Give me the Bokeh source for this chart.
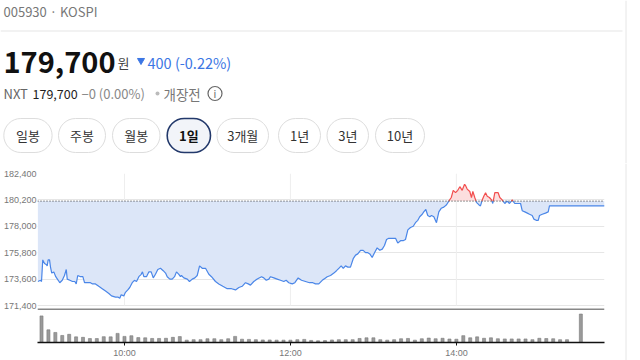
import numpy as np
from bokeh.plotting import figure
from bokeh.layouts import column, row
from bokeh.models import Range1d, FixedTicker, Span, NumeralTickFormatter
from bokeh.core.properties import value
from bokeh.embed import file_html
from bokeh.resources import INLINE

# ---------------- data ----------------
CODE_LINE = "005930 · KOSPI"
LAST_PRICE = "179,700"
UNIT = "원"
CHANGE = "400 (-0.22%)"
NXT_LABEL = "NXT"
NXT_PRICE = "179,700"
NXT_CHANGE = "−0 (0.00%)"
NXT_STATE = "개장전"
PERIODS = ["일봉", "주봉", "월봉", "1일", "3개월", "1년", "3년", "10년"]
SELECTED = "1일"

PREV_CLOSE = 180100

# minutes after 09:00
PRICE_MINUTES = [
    -2.7, -0.7, 0.0, 0.9, 2.2, 3.6, 4.1, 4.8, 5.8, 6.5,
    7.4, 8.9, 10.3, 12.1, 13.2, 15.0, 16.6, 17.9, 18.6, 20.5,
    22.4, 24.1, 25.1, 26.2, 28.2, 29.9, 31.1, 33.0, 35.4, 36.9,
    39.0, 41.4, 43.9, 46.3, 48.7, 50.6, 53.5, 55.2, 56.6, 57.6,
    59.5, 60.7, 62.4, 63.8, 65.6, 67.2, 68.7, 70.4, 72.1, 73.0,
    74.0, 75.9, 77.6, 79.3, 80.8, 82.4, 84.1, 86.0, 88.0, 89.7,
    90.9, 92.8, 94.5, 96.2, 97.6, 99.3, 100.5, 101.2, 102.9, 105.4,
    107.0, 109.0, 110.9, 112.6, 114.3, 116.2, 118.6, 121.0, 122.9, 125.8,
    128.2, 131.1, 134.3, 137.4, 140.3, 142.7, 145.1, 147.5, 149.5, 151.1,
    153.5, 156.0, 159.1, 160.7, 162.5, 164.4, 165.6, 168.0, 170.4, 172.8,
    175.2, 176.9, 178.8, 181.3, 183.2, 185.6, 188.0, 190.9, 193.8, 196.2,
    198.1, 200.5, 203.0, 205.4, 206.6, 209.0, 211.4, 213.3, 215.0, 216.7,
    218.2, 219.8, 221.5, 223.4, 225.4, 227.1, 228.7, 230.7, 232.6, 234.3,
    236.0, 237.4, 239.1, 240.8, 242.7, 244.6, 246.4, 248.0, 249.5, 251.1,
    253.6, 256.0, 257.6, 259.6, 261.5, 263.2, 264.9, 266.8, 268.8, 270.4,
    272.1, 273.5, 275.3, 276.4, 277.9, 279.3, 280.8, 282.0, 283.7, 285.6,
    287.3, 289.0, 290.9, 292.9, 294.5, 296.3, 297.7, 299.4, 301.0, 302.5,
    304.2, 305.9, 306.6, 307.8, 309.7, 310.9, 311.9, 313.3, 314.5, 316.2,
    317.4, 318.7, 319.8, 321.1, 322.3, 323.9, 325.4, 326.3, 327.8, 330.2,
    331.4, 333.1, 335.0, 336.7, 338.4, 340.4, 342.2, 344.7, 346.4, 347.6,
    349.5, 351.3, 352.9, 354.8, 356.0, 357.7, 359.2, 360.1, 362.1, 364.4,
    366.4, 367.3, 368.1, 380.0, 390.0, 407.1,
]
PRICES = [
    173400, 173500, 173400, 175200, 174900, 174800, 174700, 175200, 175200, 174600,
    174100, 174200, 173800, 173500, 173300, 173500, 173900, 174400, 173600, 173500,
    173400, 173400, 173200, 173900, 173800, 173800, 173300, 173300, 173300, 173200,
    173200, 173000, 172800, 172600, 172400, 172200, 172100, 172100, 172000, 172300,
    172200, 172500, 172700, 172900, 173300, 173500, 173400, 173800, 174000, 174200,
    173800, 173800, 174200, 174200, 173700, 174000, 174400, 174500, 174300, 174100,
    173800, 173600, 173600, 173800, 174200, 174000, 173800, 173900, 173700, 173600,
    173400, 173600, 173700, 173900, 174700, 174500, 174500, 174000, 173800, 173400,
    173200, 173000, 172800, 172800, 172700, 172900, 173000, 173300, 173200, 173100,
    173400, 173600, 173800, 173700, 173500, 173600, 173800, 173700, 173600, 173500,
    173400, 173500, 173300, 173200, 173300, 173700, 173500, 173400, 173300, 173300,
    173200, 173200, 173500, 173700, 173800, 173900, 174100, 174300, 174500, 174700,
    174500, 174700, 174600, 174600, 175300, 175600, 175700, 176000, 176000, 175800,
    175800, 175700, 175400, 175800, 176200, 176000, 176100, 176400, 176900, 177000,
    177000, 177000, 176600, 176800, 176800, 176900, 177700, 177900, 178000, 178300,
    178500, 178800, 179000, 179200, 179400, 178900, 178800, 178900, 178800, 178300,
    179200, 179500, 179600, 179800, 180100, 180400, 181000, 180800, 181000, 181300,
    181000, 181500, 181400, 181100, 180900, 180400, 180900, 180400, 180000, 179800,
    179700, 180200, 180500, 180800, 180500, 180400, 180200, 179900, 180800, 180800,
    180400, 180200, 179900, 180100, 179900, 180200, 179900, 179900, 179900, 179300,
    179200, 179100, 179000, 178900, 178600, 178500, 178500, 178900, 179000, 179100,
    179200, 179700, 179700, 179700, 179700, 179700,
]

# 5-minute volume bars (minutes after 09:00) plus the 15:30 closing auction
VOL_MINUTES = list(range(0, 385, 5)) + [390]
VOLUMES = [
    283000, 135000, 107000, 75000, 87000, 60000, 55000, 42000, 42000, 62000,
    60000, 97000, 65000, 72000, 52000, 50000, 43000, 43000, 45000, 55000,
    63000, 25000, 30000, 30000, 40000, 40000, 30000, 40000, 65000, 35000,
    33000, 30000, 27000, 27000, 25000, 25000, 25000, 30000, 33000, 22000,
    18000, 20000, 27000, 30000, 30000, 30000, 43000, 50000, 50000, 30000,
    25000, 30000, 40000, 43000, 25000, 40000, 47000, 40000, 45000, 37000,
    35000, 73000, 50000, 60000, 45000, 50000, 40000, 38000, 38000, 38000,
    38000, 30000, 45000, 42000, 40000, 30000, 30000,
    303000,
]

Y_TICKS = [171400, 173600, 175800, 178000, 180200, 182400]
X_TICKS = [60, 180, 300]
X_TICK_LABELS = ["10:00", "12:00", "14:00"]

# ---------------- styling / layout ----------------
FONT = "Noto Sans CJK KR"
AXIS_FONT = "Liberation Sans"
BLUE_TEXT = "#3b76e4"
BLUE_LINE = "#4a86e8"
BLUE_FILL = "#dce6f8"
RED_LINE = "#f24e4e"
RED_FILL = "#fcdede"

W, H = 640, 360
HEAD_H, PRICE_H, VOL_H = 163, 148, 49
CHART_W, STRIP_W = 620, 20
FRAME_L, FRAME_R = 37, 604
T_RANGE = (-2.9, 407.1)
GRID_PX = 132                      # pixel height between the outer y ticks
WON_PER_PX = (Y_TICKS[-1] - Y_TICKS[0]) / GRID_PX
P_RANGE = (Y_TICKS[0] - 4 * WON_PER_PX, Y_TICKS[-1])   # 4px below the last grid line
V_RANGE = (0, 330000)

PILL_LEFT = [3.3, 58.0, 112.0, 166.7, 216.5, 278.0, 326.5, 375.0]
PILL_RIGHT = [51.6, 105.0, 159.5, 210.0, 268.0, 320.0, 368.0, 424.0]
PILL_TOP, PILL_BOTTOM = 118, 152


def txt(fig, x, y, s, size, color, style="normal", align="left", font=FONT):
    fig.text(x=[x], y=[y], text=[s], text_font=value(font),
             text_font_size=value(f"{size}px"), text_color=color,
             text_font_style=style, text_align=align, text_baseline="middle")


# ---------------- header ----------------
head = figure(width=W, height=HEAD_H, x_range=Range1d(0, W), y_range=Range1d(HEAD_H, 0),
              x_axis_type=None, y_axis_type=None, toolbar_location=None,
              output_backend="svg", min_border=0, outline_line_color=None)

txt(head, 3, 10.5, CODE_LINE, 13, "#777777")
head.segment(x0=[0], y0=[30.5], x1=[622], y1=[30.5], line_color="#eeeeee", line_width=1.5)
head.segment(x0=[625.5], y0=[0], x1=[625.5], y1=[HEAD_H], line_color="#e6e6e6", line_width=1)

txt(head, 3, 61, LAST_PRICE, 29, "#111111", style="bold")
txt(head, 117, 62, UNIT, 13, "#444444")
head.scatter(x=[140.5], y=[60], marker="inverted_triangle", size=7,
             fill_color=BLUE_TEXT, line_color=BLUE_TEXT)
txt(head, 147, 61.5, CHANGE, 14.5, BLUE_TEXT)

txt(head, 3, 93, NXT_LABEL, 13, "#666666")
txt(head, 32, 93, NXT_PRICE, 12.5, "#222222")
txt(head, 81, 93, NXT_CHANGE, 13, "#888888")
head.scatter(x=[157], y=[93], size=4, fill_color="#bbbbbb", line_color=None)
txt(head, 163, 93, NXT_STATE, 13.5, "#777777")
head.scatter(x=[214.5], y=[93], size=14, fill_color=None, line_color="#666666", line_width=1.2)
txt(head, 214.5, 93.5, "i", 10, "#666666", align="center", font="DejaVu Sans")

for lab, l, r in zip(PERIODS, PILL_LEFT, PILL_RIGHT):
    sel = lab == SELECTED
    head.quad(left=[l], right=[r], top=[PILL_TOP], bottom=[PILL_BOTTOM],
              border_radius=17,
              fill_color="#f2f4f9" if sel else "#ffffff",
              line_color="#23396b" if sel else "#dddddd",
              line_width=1.6 if sel else 1.0)
    txt(head, (l + r) / 2, (PILL_TOP + PILL_BOTTOM) / 2, lab, 13,
        "#111111" if sel else "#333333", style="bold" if sel else "normal", align="center")

# ---------------- price chart ----------------
price = figure(width=CHART_W, height=PRICE_H, x_range=Range1d(*T_RANGE), y_range=Range1d(*P_RANGE),
               x_axis_type=None, toolbar_location=None, output_backend="svg",
               min_border_left=FRAME_L, min_border_right=CHART_W - FRAME_R,
               min_border_top=10, min_border_bottom=2, outline_line_color=None)

yax = price.yaxis[0]
yax.ticker = FixedTicker(ticks=Y_TICKS)
yax.formatter = NumeralTickFormatter(format="0,0")
yax.axis_line_color = None
yax.major_tick_line_color = None
yax.major_tick_out = 0
yax.major_tick_in = 0
yax.minor_tick_line_color = None
yax.minor_tick_out = 0
yax.major_label_standoff = 1
yax.major_label_text_font = AXIS_FONT
yax.major_label_text_font_size = "9px"
yax.major_label_text_color = "#777777"
price.ygrid.ticker = FixedTicker(ticks=Y_TICKS)
price.ygrid.grid_line_color = "#e6e6e6"
# vertical time grid lines, only between the outer price ticks
price.segment(x0=X_TICKS, y0=[Y_TICKS[0]] * len(X_TICKS), x1=X_TICKS,
              y1=[Y_TICKS[-1]] * len(X_TICKS), line_color="#eeeeee", line_width=1)

t = np.array(PRICE_MINUTES, dtype=float)
pr = np.array(PRICES, dtype=float)
xs, ys = [t[0]], [pr[0]]
for i in range(1, len(t)):
    a, b = pr[i - 1] - PREV_CLOSE, pr[i] - PREV_CLOSE
    if a * b < 0:
        xs.append(t[i - 1] + (t[i] - t[i - 1]) * a / (a - b))
        ys.append(PREV_CLOSE)
    xs.append(t[i])
    ys.append(pr[i])
xs = np.array(xs)
ys = np.array(ys)

price.varea(x=xs, y1=np.full(len(xs), PREV_CLOSE), y2=np.minimum(ys, PREV_CLOSE),
            fill_color=BLUE_FILL)
price.varea(x=xs, y1=np.full(len(xs), PREV_CLOSE), y2=np.maximum(ys, PREV_CLOSE),
            fill_color=RED_FILL)
price.line(x=xs, y=np.where(ys <= PREV_CLOSE, ys, np.nan), line_color=BLUE_LINE, line_width=1.2)
price.line(x=xs, y=np.where(ys >= PREV_CLOSE, ys, np.nan), line_color=RED_LINE, line_width=1.2)
price.add_layout(Span(location=PREV_CLOSE, dimension="width", line_color="#555555",
                      line_width=1.2, line_dash="1 2"))
# black separator between price and volume panels
price.add_layout(Span(location=P_RANGE[0], dimension="width", line_color="#111111", line_width=1.6))

# ---------------- volume chart ----------------
vol = figure(width=CHART_W, height=VOL_H, x_range=price.x_range, y_range=Range1d(*V_RANGE),
             y_axis_type=None, toolbar_location=None, output_backend="svg",
             min_border_left=FRAME_L, min_border_right=CHART_W - FRAME_R,
             min_border_top=0, min_border_bottom=16, outline_line_color=None)
vol.xgrid.visible = False
vol.ygrid.visible = False
vol.vbar(x=VOL_MINUTES, top=VOLUMES, width=2.2, fill_color="#9a9a9a", line_color="#7a7a7a",
         line_width=0.6)
xax = vol.xaxis[0]
xax.ticker = FixedTicker(ticks=X_TICKS)
xax.major_label_overrides = {k: v for k, v in zip(X_TICKS, X_TICK_LABELS)}
xax.axis_line_color = "#111111"
xax.axis_line_width = 1.6
xax.major_tick_line_color = "#111111"
xax.major_tick_out = 3
xax.major_tick_in = 0
xax.minor_tick_line_color = None
xax.minor_tick_out = 0
xax.major_label_standoff = 2
xax.major_label_text_font = AXIS_FONT
xax.major_label_text_font_size = "9px"
xax.major_label_text_color = "#777777"

# ---------------- right strip ----------------
strip = figure(width=STRIP_W, height=PRICE_H + VOL_H, x_range=Range1d(0, STRIP_W),
               y_range=Range1d(PRICE_H + VOL_H, 0), x_axis_type=None, y_axis_type=None,
               toolbar_location=None, output_backend="svg", min_border=0,
               outline_line_color=None)
strip.segment(x0=[5.5], y0=[0], x1=[5.5], y1=[PRICE_H + VOL_H], line_color="#e6e6e6", line_width=1)

root = column(head, row(column(price, vol), strip))
root.styles = {"position": "absolute", "left": "0px", "top": "0px"}

open("out.html", "w").write(file_html(root, INLINE))
